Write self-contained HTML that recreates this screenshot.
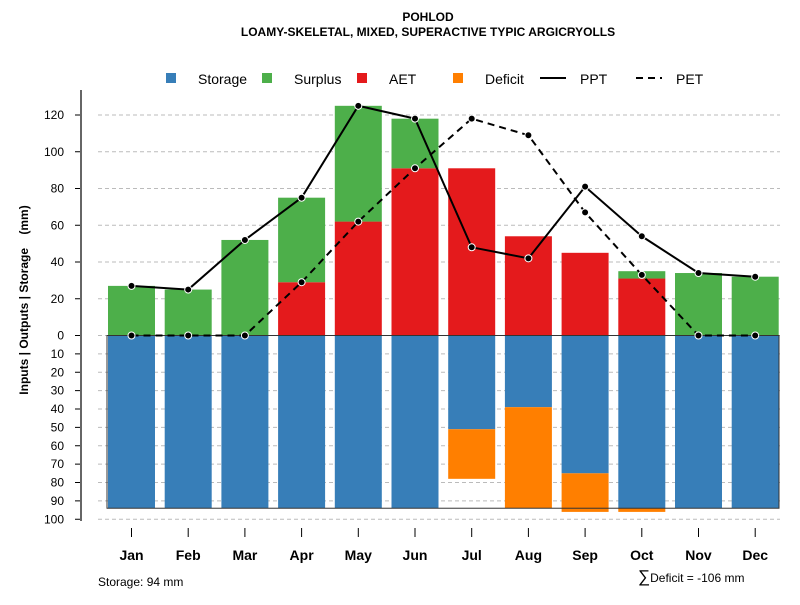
<!DOCTYPE html>
<html><head><meta charset="utf-8"><style>
body{margin:0;background:#fff;font-family:"Liberation Sans",sans-serif}
text{font-family:"Liberation Sans",sans-serif}
</style></head><body>
<svg id="chart" width="800" height="600" xmlns="http://www.w3.org/2000/svg">
<text x="428" y="21" font-size="12" font-weight="bold" text-anchor="middle">POHLOD</text>
<text x="428" y="36" font-size="12" font-weight="bold" text-anchor="middle">LOAMY-SKELETAL, MIXED, SUPERACTIVE TYPIC ARGICRYOLLS</text>
<g id="legend" font-size="14">
<rect x="166" y="73" width="10" height="10" fill="#377eb8"/><text x="198" y="84">Storage</text>
<rect x="262" y="73" width="10" height="10" fill="#4daf4a"/><text x="294" y="84">Surplus</text>
<rect x="357" y="73" width="10" height="10" fill="#e41a1c"/><text x="389" y="84">AET</text>
<rect x="453" y="73" width="10" height="10" fill="#ff7f00"/><text x="485" y="84">Deficit</text>
<line x1="540" y1="78" x2="566" y2="78" stroke="#000" stroke-width="2"/><text x="580" y="84">PPT</text>
<line x1="636" y1="78" x2="662" y2="78" stroke="#000" stroke-width="2" stroke-dasharray="7,5"/><text x="676" y="84">PET</text>
</g>
<text transform="translate(28,300) rotate(-90)" font-size="12" font-weight="bold" text-anchor="middle" style="white-space:pre" xml:space="preserve">Inputs | Outputs | Storage    (mm)</text>
<g id="grid"></g><g id="bars"></g><g id="lines"></g><g id="axes"></g>
<text x="98" y="586" font-size="12">Storage: 94 mm</text>
<text x="638" y="582" font-size="12"><tspan font-size="17">∑</tspan>Deficit = -106 mm</text>
</svg>
<script>
const months=["Jan","Feb","Mar","Apr","May","Jun","Jul","Aug","Sep","Oct","Nov","Dec"];
const storage=[94,94,94,94,94,94,51,39,75,94,94,94];
const deficit=[0,0,0,0,0,0,27,55,21,2,0,0];
const aet=[0,0,0,29,62,91,91,54,45,31,0,0];
const surplus=[27,25,52,46,63,27,0,0,0,4,34,32];
const ppt=[27,25,52,75,125,118,48,42,81,54,34,32];
const pet=[0,0,0,29,62,91,118,109,67,33,0,0];
const posTicks=[0,20,40,60,80,100,120];
const negTicks=[10,20,30,40,50,60,70,80,90,100];
const maxStorage=94;
const NS="http://www.w3.org/2000/svg";
const y0=335.5,k=1.8375;
function yUp(v){return y0-v*k}
function yDn(v){return y0+v*k}
function xc(i){return 131.5+i*56.7}
function mk(p,t,a){const e=document.createElementNS(NS,t);for(const q in a)e.setAttribute(q,a[q]);p.appendChild(e);return e}
const G=document.getElementById('grid'),B=document.getElementById('bars'),L=document.getElementById('lines'),A=document.getElementById('axes');
posTicks.forEach(v=>{
 const l=mk(G,'line',{x1:98,x2:780,y1:yUp(v),y2:yUp(v),stroke:'#bbb','stroke-dasharray':'4,3'});
 
 
 const t=mk(A,'text',{x:64,y:yUp(v)+4,'font-size':12,'text-anchor':'end'});t.textContent=v;
 
 
 mk(A,'line',{x1:75,x2:81,y1:yUp(v),y2:yUp(v),stroke:'#000'});
});
negTicks.forEach(v=>{
 const l=mk(G,'line',{x1:98,x2:780,y1:yDn(v),y2:yDn(v),stroke:'#bbb','stroke-dasharray':'4,3'});
 
 
 const t=mk(A,'text',{x:64,y:yDn(v)+4,'font-size':12,'text-anchor':'end'});t.textContent=v;
 
 
 mk(A,'line',{x1:75,x2:81,y1:yDn(v),y2:yDn(v),stroke:'#000'});
});
mk(A,'line',{x1:81,x2:81,y1:90,y2:521,stroke:'#666','stroke-width':2});
const w=47;
months.forEach((m,i)=>{
 const x=xc(i)-w/2;
 let r=mk(B,'rect',{x:x,y:y0,width:w,height:storage[i]*k,fill:'#377eb8'});
 
 
 if(deficit[i]>0){r=mk(B,'rect',{x:x,y:yDn(storage[i]),width:w,height:deficit[i]*k,fill:'#ff7f00'});
 
 }
 if(aet[i]>0){r=mk(B,'rect',{x:x,y:yUp(aet[i]),width:w,height:aet[i]*k,fill:'#e41a1c'});
 
 }
 if(surplus[i]>0){r=mk(B,'rect',{x:x,y:yUp(aet[i]+surplus[i]),width:w,height:surplus[i]*k,fill:'#4daf4a'});
 
 }
 mk(A,'line',{x1:xc(i),x2:xc(i),y1:528,y2:537,stroke:'#000'});
 const t=mk(A,'text',{x:xc(i),y:560,'font-size':14,'font-weight':'bold','text-anchor':'middle'});t.textContent=m;
 
 
});
let box=mk(B,'rect',{x:107,y:y0,width:672,height:maxStorage*k,fill:'none',stroke:'#333','stroke-width':1});


function series(vals,dash,name){
 const p=mk(L,'polyline',{points:vals.map((v,i)=>xc(i)+','+yUp(v)).join(' '),fill:'none',stroke:'#000','stroke-width':2,'stroke-dasharray':dash});
 
 
 vals.forEach((v,i)=>{const c=mk(L,'circle',{cx:xc(i),cy:yUp(v),r:3.5,fill:'#000',stroke:'#fff','stroke-width':1});
 
 });
}
series(pet,'7,5','pet');
series(ppt,'none','ppt');
</script>
</body></html>
